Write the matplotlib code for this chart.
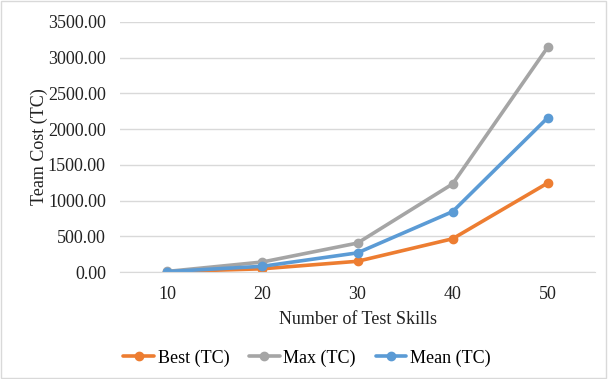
import matplotlib
matplotlib.use("Agg")
import matplotlib.pyplot as plt
from matplotlib.patches import Rectangle

categories = ["10", "20", "30", "40", "50"]
best = [5, 45, 150, 465, 1245]
maxv = [8, 140, 405, 1232, 3145]
mean = [6, 80, 268, 845, 2158]
yticks = [0, 500, 1000, 1500, 2000, 2500, 3000, 3500]

plt.rcParams['font.family'] = ['Liberation Serif', 'DejaVu Serif']
FS = 13

fig = plt.figure(figsize=(6.08, 3.79), dpi=100)
fig.patches.append(Rectangle((0.002, 0.003), 0.995, 0.994, transform=fig.transFigure,
                             fill=False, edgecolor='#D9D9D9', linewidth=1))
ax = fig.add_axes([0.197, 0.2823, 0.782, 0.66])

x = list(range(1, len(categories) + 1))
series = [("Best (TC)", best, "#ED7D31"),
          ("Max (TC)", maxv, "#A5A5A5"),
          ("Mean (TC)", mean, "#5B9BD5")]
for label, vals, col in series:
    ax.plot(x, vals, color=col, linewidth=2.6, marker='o', markersize=6, label=label,
            solid_capstyle='round')

ax.set_xlim(0.5, 5.5)
ax.set_ylim(0, 3500)
ax.set_yticks(yticks)
ax.set_yticklabels([f"{v:.2f}" for v in yticks])
ax.set_xticks(x)
ax.set_xticklabels(categories)
ax.yaxis.grid(True, color='#D9D9D9', linewidth=1)
ax.set_axisbelow(True)
for s in ['top', 'right', 'left']:
    ax.spines[s].set_visible(False)
ax.spines['bottom'].set_color('#D9D9D9')
ax.tick_params(axis='both', length=0, labelsize=FS, colors='#222222')
ax.tick_params(axis='y', pad=10)
ax.tick_params(axis='x', pad=10)
ax.set_xlabel("Number of Test Skills", fontsize=FS, labelpad=6, color='#222222')
ax.set_ylabel("Team Cost (TC)", fontsize=FS, labelpad=0, color='#222222')

fig.legend(loc='center', bbox_to_anchor=(0.505, 0.055), ncol=3, frameon=False,
           fontsize=FS, handlelength=1.7, columnspacing=1.1, handletextpad=0.2)

fig.savefig("out.png", dpi=100)
